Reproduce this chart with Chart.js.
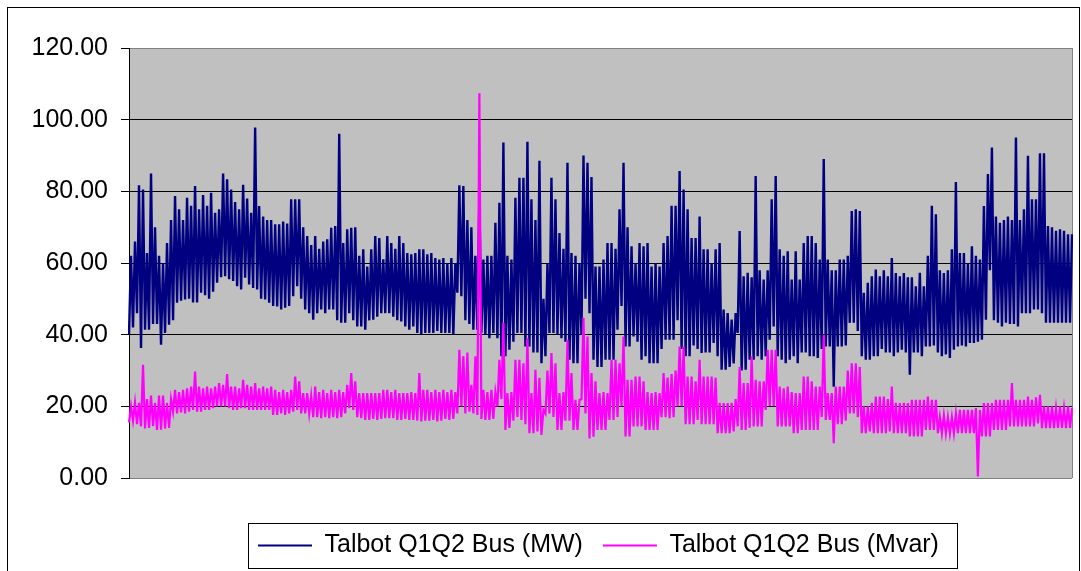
<!DOCTYPE html>
<html>
<head>
<meta charset="utf-8">
<script src="https://cdn.jsdelivr.net/npm/chart.js@4.4.0/dist/chart.umd.min.js"></script>
<style>
  html, body { margin: 0; padding: 0; background: #fff; }
  #wrap { width: 1081px; height: 571px; }
</style>
</head>
<body>
<div id="wrap"><canvas id="busChart" width="1081" height="571"></canvas></div>
<script>
const seriesNames = ['Talbot Q1Q2 Bus (MW)', 'Talbot Q1Q2 Bus (Mvar)'];
const yTicks = [0, 20, 40, 60, 80, 100, 120];

// MW: daily highs and lows, left to right
const mwPeaks = [
  62, 66, 81.7, 80.5, 62.8, 85, 70, 62, 60, 65.6,
  72, 78.7, 75, 72, 78.2, 76, 81.5, 75, 79, 76,
  79.6, 74, 75, 85, 83.4, 80.5, 77, 75, 81.8, 78,
  74, 97.8, 75.9, 73, 72, 72, 70.8, 70.8, 71.6, 71,
  77.8, 77.8, 77.8, 70, 67.5, 65, 67.5, 64, 66, 66.6,
  69.8, 70.3, 96.1, 65.6, 69.4, 69.8, 70, 62, 63.8, 59,
  63.8, 67.5, 67, 61, 67.5, 65.6, 64, 67.5, 65.6, 62.8,
  62.4, 62.8, 63.8, 63.8, 62.4, 62.8, 61.4, 61, 61.4, 60,
  61.4, 60, 81.7, 81.5, 72, 70, 62, 78.2, 61, 62,
  62, 71.2, 76.8, 93.6, 62, 61, 78.2, 83.8, 83.8, 93.8,
  77.8, 72, 88.5, 50, 60, 83.8, 77.8, 68.4, 64, 88,
  62.8, 62, 60, 90, 88, 84, 59, 59, 61, 65.6,
  65.6, 64, 75, 88, 70, 64.7, 60, 65.6, 64.7, 65.6,
  59, 60, 59, 65.6, 67.5, 76, 76, 85.7, 80.5, 75,
  67, 67, 73, 63.8, 63.8, 60, 63.8, 65.6, 47, 46,
  44.2, 46, 68.9, 56.3, 57.3, 56, 84.3, 58, 55.4, 58,
  77.8, 84.3, 63.8, 62, 63.3, 55.4, 63.3, 55.4, 65.6, 67.5,
  67.5, 65.6, 61, 89, 61, 58, 58, 61, 61, 62,
  74.5, 75, 74.5, 51.7, 54.5, 56.3, 58.2, 56.3, 58, 56.3,
  61.4, 57.2, 56.3, 57.2, 56, 56, 53.5, 57.3, 53.5, 62,
  76, 73.6, 58, 57.2, 58, 63.8, 82.6, 62.8, 62.8, 60,
  64.7, 62, 61, 75.9, 84.8, 92.2, 73, 71.2, 72, 73,
  72, 95, 72, 75, 89.9, 77.8, 77.8, 90.6, 90.6, 70.3,
  70, 69, 69.4, 69, 68, 68
];
const mwTroughs = [
  40, 42, 46, 36.3, 41.4, 41.4, 43, 43, 37.2, 40.5,
  42.8, 44, 48.9, 49.5, 49.8, 50, 49, 49, 51.7, 51,
  50, 52, 54.5, 56, 56.3, 55.5, 55, 53.5, 52.6, 55.9,
  54, 53, 52.6, 50, 49.8, 48.9, 48, 47.9, 47, 47.5,
  48, 50.7, 53.5, 50, 47, 46, 44.2, 46, 47, 46,
  47, 47, 44, 43.3, 43.3, 46, 44, 42.3, 42.3, 41.4,
  44, 44.2, 45, 46, 46, 46, 45, 44, 43.7, 42.3,
  41.4, 42.3, 40.5, 40, 40.5, 40.5, 40.5, 41, 40.5, 40.5,
  40.5, 40, 51.7, 50.7, 44, 43, 41.4, 41.4, 40.5, 40,
  39, 40.5, 39, 34, 34, 35.8, 38, 40.5, 40.5, 36.7,
  36.7, 35, 35, 32, 34, 40.5, 40.5, 40, 39, 38,
  33, 32, 32, 40, 50, 46, 33, 31, 31, 33,
  33, 33, 41.4, 48, 36.7, 36.7, 39.5, 38, 33, 34,
  32, 32, 32, 36, 38.6, 38.6, 38.6, 44, 36, 34,
  34, 37, 36, 34.9, 35, 35, 37.7, 34, 30.2, 30.2,
  31, 32, 40.5, 30, 30.2, 33, 33, 34, 33, 34,
  38.6, 42.3, 34, 33, 32, 33, 34, 32, 35, 35,
  34, 34, 33.5, 36, 36.7, 36.7, 25.5, 36.7, 36.7, 37,
  43.3, 43.3, 41, 34, 33, 33, 34, 34, 36, 35,
  35, 34, 35, 35.8, 35, 28.8, 35, 35, 34, 36.7,
  36.7, 37, 35, 34, 34.5, 33.5, 35.8, 36.7, 37, 36.7,
  37.7, 37.7, 38, 38.6, 44.2, 58, 44, 43.3, 42.3, 43.3,
  43, 43, 42.3, 46, 46, 46, 47, 47, 46, 43.3,
  43.3, 43.3, 43.3, 43.3, 43.3, 43.3
];

// Mvar: highs and lows, same spacing
const mvarPeaks = [
  20, 21, 21, 31.6, 22, 23, 21, 23, 23, 21,
  22, 24.6, 24, 24.6, 25, 25.5, 29.7, 25.5, 25, 25.5,
  25, 25.5, 26.5, 26, 29, 25.5, 25.5, 25, 27.4, 26,
  25.5, 26.5, 25, 25.5, 25, 25.5, 24.6, 24, 24.6, 24,
  24.6, 28.3, 27, 23.7, 23.7, 23, 25.5, 24, 24.6, 23.7,
  24.6, 24, 24.6, 24, 26, 29.3, 27, 23.7, 23.7, 23.7,
  23.7, 23.7, 23.7, 24.6, 24.6, 24, 24.6, 23.7, 23.7, 23.7,
  24, 23.7, 29.3, 24.6, 24.6, 24, 24.6, 24, 24.6, 24,
  24.6, 24, 35.8, 34, 35, 26, 34, 107.4, 24.6, 24,
  24.6, 24, 33, 43.3, 23.7, 24, 33, 33, 32, 39,
  23.7, 30.2, 28, 19, 30, 34.9, 32, 23.7, 24, 38.6,
  29.3, 21.8, 21.8, 44.7, 39.5, 29.3, 27, 23.7, 24, 23.7,
  33, 33, 32, 39.5, 27.4, 27.4, 28.3, 28.3, 27, 24,
  23.7, 24, 23.7, 29.3, 28, 29, 30, 36.7, 36.7, 28.3,
  28.3, 27, 33, 28.3, 28.3, 28.3, 28, 21, 20.9, 20.9,
  21, 22, 31, 26.5, 26.5, 34, 27.4, 27, 27, 35.8,
  35.8, 35.8, 25.5, 25, 25.5, 24, 23.7, 23.7, 28.3, 28.3,
  27, 25.5, 25.5, 40, 23.7, 23.7, 25.5, 25.5, 25.5, 30,
  32, 32, 31, 20, 20, 21, 22.7, 22.7, 22.7, 22,
  25.5, 21, 20.9, 21, 20.9, 21.8, 21.8, 21.8, 21.8, 22.7,
  21.8, 21.8, 17, 17.5, 17, 17, 18, 19, 19, 19,
  19, 19.5, 19, 20.9, 20.9, 20.9, 21.8, 21.8, 21.8, 21.8,
  26.5, 21.8, 21.8, 21.8, 22.7, 21.8, 22.5, 23.2, 20, 20,
  20, 19.5, 20, 19.5, 20, 19.5
];
const mvarTroughs = [
  15.5, 16, 15, 14.4, 13.8, 14, 14.5, 13.4, 13.5, 13.8,
  14, 18.5, 18, 18.3, 18, 18.5, 19, 18.5, 18.5, 19,
  19, 19.5, 20, 20, 20, 19.5, 19, 19, 19.5, 19.5,
  19, 19, 19, 19, 19, 19, 17.6, 17.6, 18, 17.6,
  18, 18.5, 19, 18, 18, 18, 17, 17, 16.7, 17,
  16.7, 17, 16.7, 17, 18, 19.5, 19, 17, 16.7, 16.2,
  16.2, 16.5, 16.2, 16.5, 16.7, 16.7, 16.7, 16.2, 16.2, 16.5,
  16.2, 16.2, 16, 15.8, 16, 16, 16.2, 15.8, 16, 16.5,
  16.2, 16.5, 18, 20, 18, 18.5, 18, 17.6, 16.5, 16.2,
  16.2, 16.5, 20, 22, 13.4, 14, 16, 17, 16.2, 15,
  12.5, 12.5, 13, 12, 18, 18, 17, 13.4, 13.4, 16,
  16, 13.4, 13.4, 22, 18, 11, 11.5, 13.4, 13.4, 13.4,
  16.2, 16.2, 17, 20, 11.6, 11.6, 14.4, 14.4, 14.4, 13.4,
  13.4, 13.4, 13.4, 17, 17, 16.7, 17, 20, 20, 15,
  15, 15, 16.2, 15, 15, 15, 15, 12.5, 12.5, 12.5,
  12.5, 13, 14.4, 13.4, 13.4, 14, 14.4, 14.4, 14.4, 19,
  20, 20, 14.4, 14.4, 14.4, 14.4, 12.5, 12.5, 13.4, 13.4,
  13.4, 13.4, 13.4, 17, 16.2, 16.2, 9.7, 15, 15, 16,
  18, 18, 17, 12.5, 12.5, 13, 12.5, 12.5, 12.5, 12.5,
  13, 12.5, 12.5, 12.5, 12.5, 11.6, 11.6, 11.6, 11.6, 13.4,
  13.4, 13.4, 12.5, 12.5, 12.5, 12.5, 12.5, 12.5, 12.5, 12.5,
  12.5, 12.5, 0.4, 11.6, 11.6, 11.6, 13.4, 13.4, 13.4, 13.4,
  14.4, 14.4, 14.4, 14.4, 14.4, 14.4, 14.4, 15.2, 13.9, 13.9,
  13.9, 13.9, 14, 14, 13.9, 14
];

// each reading pair becomes low -> high on the line
function interleave(lows, highs) {
  const out = [];
  lows.forEach((v, i) => { out.push(v, highs[i]); });
  return out;
}
const mwSeries = interleave(mwTroughs, mwPeaks);
const mvarSeries = interleave(mvarTroughs, mvarPeaks);
const labels = mwSeries.map((_, i) => String(i + 1));

const FONT = '"Liberation Sans", Arial, Helvetica, sans-serif';

const excelFrame = {
  id: 'excelFrame',
  afterLayout(chart) {
    // park the legend where the original box sits
    const lg = chart.legend;
    const w = lg.right - lg.left, h = lg.bottom - lg.top;
    lg.left = 238; lg.right = lg.left + w;
    lg.top = 513; lg.bottom = lg.top + h;
  },
  beforeDraw(chart) {
    const { ctx, chartArea: a } = chart;
    ctx.save();
    ctx.fillStyle = '#fff';
    ctx.fillRect(0, 0, chart.width, chart.height);
    ctx.fillStyle = '#c0c0c0';
    ctx.fillRect(a.left, a.top, a.right - a.left, a.bottom - a.top);
    ctx.restore();
  },
  beforeDatasetsDraw(chart) {
    const { ctx, chartArea: a } = chart;
    ctx.save();
    ctx.strokeStyle = '#808080';
    ctx.lineWidth = 1;
    ctx.beginPath();
    ctx.moveTo(Math.round(a.right) + 0.5, a.top);
    ctx.lineTo(Math.round(a.right) + 0.5, a.bottom);
    ctx.stroke();
    ctx.restore();
  },
  afterDraw(chart) {
    const { ctx } = chart;
    ctx.save();
    ctx.strokeStyle = '#000';
    ctx.lineWidth = 1;
    ctx.strokeRect(7.5, 7.5, 1072, 600);
    const lg = chart.legend;
    const hb = lg.legendHitBoxes;
    if (hb && hb.length) {
      const last = hb[hb.length - 1];
      const x0 = Math.round(hb[0].left - 10) + 0.5;
      const x1 = Math.round(last.left + last.width + 18) + 0.5;
      const cy = lg.top + 20 + 12.5;
      ctx.strokeRect(x0, Math.round(cy - 23) + 0.5, x1 - x0, 45);
    }
    ctx.restore();
  }
};

new Chart(document.getElementById('busChart'), {
  type: 'line',
  data: {
    labels,
    datasets: [
      { label: seriesNames[0], data: mwSeries, borderColor: '#000080', backgroundColor: '#000080',
        borderWidth: 2.4, pointRadius: 0, tension: 0, order: 2 },
      { label: seriesNames[1], data: mvarSeries, borderColor: '#ff00ff', backgroundColor: '#ff00ff',
        borderWidth: 2.2, pointRadius: 0, tension: 0, order: 1 }
    ]
  },
  options: {
    responsive: false,
    animation: false,
    events: [],
    layout: { padding: { left: 8, top: 48, right: 9, bottom: 38 } },
    plugins: {
      legend: {
        position: 'bottom',
        align: 'start',
        labels: {
          font: { family: FONT, size: 25 },
          color: '#000',
          usePointStyle: true,
          pointStyle: 'line',
          pointStyleWidth: 54,
          padding: 20,
          sort: (a, b) => a.datasetIndex - b.datasetIndex,
          generateLabels: chart => Chart.defaults.plugins.legend.labels.generateLabels(chart)
            .map(l => Object.assign(l, { lineWidth: 2 }))
        }
      },
      tooltip: { enabled: false }
    },
    scales: {
      x: { display: false },
      y: {
        min: yTicks[0],
        max: yTicks[yTicks.length - 1],
        afterBuildTicks: s => { s.ticks = yTicks.map(v => ({ value: v })); },
        afterFit: s => { s.width = 121; },
        ticks: {
          callback: v => Number(v).toFixed(2),
          font: { family: FONT, size: 25 },
          color: '#000',
          padding: 13
        },
        grid: {
          color: c => (c.tick && (c.tick.value === 0 || c.tick.value === 120)) ? '#808080' : '#000',
          tickColor: '#000',
          tickLength: 8,
          lineWidth: 1
        },
        border: { color: '#000', width: 1 }
      }
    }
  },
  plugins: [excelFrame]
});
</script>
</body>
</html>
